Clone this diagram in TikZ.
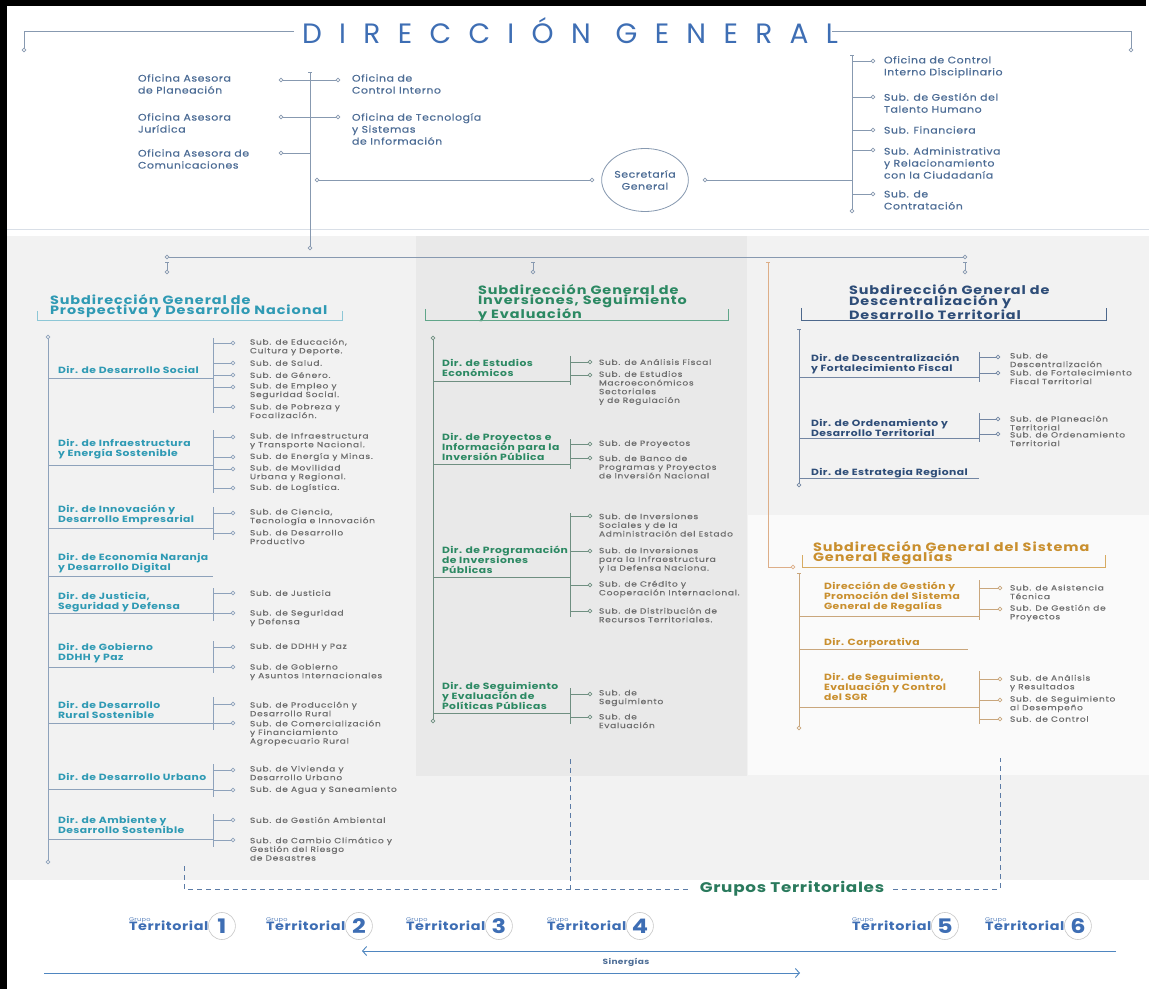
\documentclass[tikz,border=0pt]{standalone}
\usepackage{fontspec}
\setmainfont{Poppins}[FakeStretch=1.2,LetterSpace=5]
\newfontfamily\subfont{Poppins}[FakeStretch=1.2,LetterSpace=10,FakeBold=0.4]
\newfontfamily\hdrfont{Poppins}[FakeStretch=1.15,LetterSpace=6,FakeBold=0.5]
\newfontfamily\headfont{Poppins}[FakeStretch=1.2,LetterSpace=8]
\newfontfamily\titlefont{Poppins}[LetterSpace=62]
\usetikzlibrary{positioning,arrows.meta,shapes.geometric}

\definecolor{titleblue}{HTML}{3E6EB4}
\definecolor{hdrblue}{HTML}{4D6D96}
\definecolor{hdrline}{HTML}{8799B0}
\definecolor{sepline}{HTML}{D9DFE7}
\definecolor{tealc}{HTML}{2F9AB4}
\definecolor{tealline}{HTML}{8EA2BB}
\definecolor{greenc}{HTML}{2C8963}
\definecolor{greenline}{HTML}{6F8F81}
\definecolor{navyc}{HTML}{2E4D78}
\definecolor{navyline}{HTML}{7386A3}
\definecolor{goldc}{HTML}{C98F2E}
\definecolor{goldline}{HTML}{C9A67C}
\definecolor{orangeline}{HTML}{DDAE88}
\definecolor{subgray}{HTML}{6E6E6E}
\definecolor{bandgray}{HTML}{F2F2F2}
\definecolor{midgray}{HTML}{E9E9E9}
\definecolor{sgrwhite}{HTML}{FAFAFA}
\definecolor{dashblue}{HTML}{5B7BA6}
\definecolor{grupgreen}{HTML}{2A7A5D}
\definecolor{synblue}{HTML}{4F86C0}

\begin{document}
\begin{tikzpicture}[x=1pt, y=-1pt,
    every node/.style={inner sep=0pt, outer sep=0pt},
    ln/.style={line width=0.9pt},
    hline/.style={ln, draw=hdrline},
    dot/.style={circle, draw, minimum size=3.8pt, line width=0.6pt},
    hdot/.style={dot, draw=hdrline},
    fork/.style={{Bar[width=4pt]}-},
    titletxt/.style={text=titleblue, font=\titlefont\fontsize{28}{28}\selectfont, inner xsep=8pt},
    hdrtxt/.style={anchor=west, align=left, text=hdrblue, font=\hdrfont\fontsize{9.5}{12}\selectfont},
    headtxt/.style={anchor=west, align=left, font=\headfont\bfseries\fontsize{12}{10.5}\selectfont},
    dirtxt/.style={anchor=west, align=left, font=\bfseries\fontsize{9}{10}\selectfont},
    subtxt/.style={anchor=west, align=left, text=subgray, font=\subfont\fontsize{7.5}{8.7}\selectfont},
    colA/.style={text=tealc},  lnA/.style={ln, draw=tealline},  dotA/.style={dot, draw=tealline},
    colB/.style={text=greenc}, lnB/.style={ln, draw=greenline}, dotB/.style={dot, draw=greenline},
    colC/.style={text=navyc},  lnC/.style={ln, draw=navyline},  dotC/.style={dot, draw=navyline},
    colD/.style={text=goldc},  lnD/.style={ln, draw=goldline},  dotD/.style={dot, draw=goldline},
    dashln/.style={draw=dashblue, line width=0.8pt, dash pattern=on 5pt off 4pt},
    terrtxt/.style={anchor=west, text=titleblue, font=\bfseries\fontsize{12}{12}\selectfont},
    grptxt/.style={anchor=south west, text=titleblue!85, font=\fontsize{5.5}{6}\selectfont},
    numtxt/.style={circle, draw=black!22, line width=0.6pt, minimum size=27pt, text=titleblue, font=\bfseries\fontsize{20}{20}\selectfont},
    syntip/.style={-{Straight Barb[length=4pt,width=9pt]}}]

  % page, grey band and panels
  \useasboundingbox (0,0) rectangle (1149,992);
  \fill[white] (0,0) rectangle (1149,992);
  \fill[bandgray] (7,236) rectangle (1149,880);
  \fill[midgray] (416,236) rectangle (747,776);
  \fill[sgrwhite] (748,515) rectangle (1149,775);
  \draw[sepline, line width=0.8pt] (7,229) -- (1149,229);
  \fill[black] (0,0) rectangle (7,989);
  \fill[black] (0,0) rectangle (1146,6);

  % Direccion General with its side brackets
  \node[titletxt] (dg) at (570,31) {DIRECCIÓN GENERAL};
  \node[hdot] (dgl) at (24,50) {};
  \node[hdot] (dgr) at (1131,50) {};
  \draw[hline] (dg.west) -| (dgl);
  \draw[hline] ([xshift=-14pt]dg.east) -| (dgr);

  % advisory offices, left of the main vertical
  \coordinate (hvt) at (310,72);
  \node[hdot] (hvb) at (310,248) {};
  \draw[hline, fork] (hvt) -- (hvb);
  \foreach \ns/\yb/\yc/\txt in {1/80/84/{Oficina Asesora\\de Planeación},
      2/117/123/{Oficina Asesora\\Jurídica},
      3/153/159/{Oficina Asesora de\\Comunicaciones}}{
    \node[hdrtxt] (oa\ns) at (138,\yc) {\txt};
    \node[hdot] (pl\ns) at (281,\yb) {};
    \draw[hline] (pl\ns) -- (pl\ns -| hvt);
  }
  \foreach \ns/\yb/\yc/\txt in {1/80/84/{Oficina de\\Control Interno},
      2/117/129/{Oficina de Tecnología\\y Sistemas\\de Información}}{
    \node[hdrtxt] (of\ns) at (352,\yc) {\txt};
    \node[hdot] (pr\ns) at (338,\yb) {};
    \draw[hline] (pl\ns) -- (pr\ns);
  }

  % Secretaria General and its offices
  \coordinate (rvt) at (852,55);
  \node[hdot] (rvb) at (852,211) {};
  \draw[hline, fork] (rvt) -- (rvb);
  \node[hdot] (p4) at (317,180) {};
  \node[hdot] (sgl) at (592,180) {};
  \node[ellipse, draw=hdrline, line width=0.8pt, minimum width=86pt, minimum height=63pt,
        align=center, text=hdrblue, font=\hdrfont\fontsize{9.5}{12}\selectfont] (secg) at (645,180) {Secretaría\\General};
  \node[hdot] (sgr) at (705,180) {};
  \draw[hline] (p4) -- (sgl);
  \draw[hline] (sgr) -- (sgr -| rvt);
  \foreach \ns/\yb/\yc/\txt in {1/61/67/{Oficina de Control\\Interno Disciplinario},
      2/97/103/{Sub. de Gestión del\\Talento Humano},
      3/130/130/{Sub. Financiera},
      4/150/163/{Sub. Administrativa\\y Relacionamiento\\con la Ciudadanía},
      5/194/200/{Sub. de\\Contratación}}{
    \node[hdot] (pq\ns) at (873,\yb) {};
    \draw[hline] (pq\ns) -- (pq\ns -| rvt);
    \node[hdrtxt] (sq\ns) at (884,\yc) {\txt};
  }

  % link down to the subdirections
  \node[hdot] (hzl) at (167,257) {};
  \node[hdot] (hzr) at (965,257) {};
  \draw[hline] (hzl) -- (hzr);
  \foreach \cc/\xx in {A/167,B/533,C/965}{
    \coordinate (tk\cc) at (\xx,262);
    \node[hdot] (tq\cc) at (\xx,272) {};
    \draw[hline, fork] (tk\cc) -- (tq\cc);
  }
  \coordinate (og) at (768,262);
  \node[dot, draw=orangeline] (ogo) at (793,567) {};
  \draw[ln, draw=orangeline, fork] (og) |- (ogo);

  % Subdireccion General de Prospectiva y Desarrollo Nacional
  \node[headtxt, colA] (hA) at (50,306) {Subdirección General de\\Prospectiva y Desarrollo Nacional};
  \coordinate (hAl) at (37,311);
  \coordinate (hAr) at (342,311);
  \draw[ln, draw=tealc!55] (hAl) -- ++(0,9) -| (hAr);
  \node[dotA] (tAt) at (48,337) {};
  \node[dotA] (tAb) at (48,862) {};
  \draw[lnA] (tAt) -- (tAb);
  \foreach \nd/\yc/\yu/\vt/\vb/\txt in {1/370/378/338/413/{Dir. de Desarrollo Social},
      2/449/465/430/493/{Dir. de Infraestructura\\y Energía Sostenible},
      3/515/528/507/540/{Dir. de Innovación y\\Desarrollo Empresarial},
      4/563/576/576/576/{Dir. de Economía Naranja\\y Desarrollo Digital},
      5/602/613/588/621/{Dir. de Justicia,\\Seguridad y Defensa},
      6/653/667/641/673/{Dir. de Gobierno\\DDHH y Paz},
      7/710/723/697/730/{Dir. de Desarrollo\\Rural Sostenible},
      8/777/789/764/797/{Dir. de Desarrollo Urbano},
      9/825/839/814/847/{Dir. de Ambiente y\\Desarrollo Sostenible}}{
    \node[dirtxt, colA] (dA\nd) at (58,\yc) {\txt};
    \coordinate (vA\nd) at (213,\vt);
    \coordinate (wA\nd) at (213,\vb);
    \coordinate (uA\nd) at (213,\yu);
    \draw[lnA] (vA\nd) -- (wA\nd);
    \draw[lnA] (uA\nd -| tAt) -- (uA\nd);
  }
  \foreach \nd/\ns/\yb/\yc/\txt in {1/1/343/347/{Sub. de Educación,\\Cultura y Deporte.},
      1/2/363/363/{Sub. de Salud.},
      1/3/375/375/{Sub. de Género.},
      1/4/387/391/{Sub. de Empleo y\\Seguridad Social.},
      1/5/407/411/{Sub. de Pobreza y\\Focalización.},
      2/1/437/441/{Sub. de Infraestructura\\y Transporte Nacional.},
      2/2/457/457/{Sub. de Energía y Minas.},
      2/3/469/473/{Sub. de Movilidad\\Urbana y Regional.},
      2/4/488/488/{Sub. de Logística.},
      3/1/513/517/{Sub. de Ciencia,\\Tecnología e Innovación},
      3/2/533/537/{Sub. de Desarrollo\\Productivo},
      5/1/593/593/{Sub. de Justicia},
      5/2/613/618/{Sub. de Seguridad\\y Defensa},
      6/1/647/647/{Sub. de DDHH y Paz},
      6/2/667/672/{Sub. de Gobierno\\y Asuntos Internacionales},
      7/1/704/709/{Sub. de Producción y\\Desarrollo Rural},
      7/2/723/733/{Sub. de Comercialización\\y Financiamiento\\Agropecuario Rural},
      8/1/770/773/{Sub. de Vivienda y\\Desarrollo Urbano},
      8/2/790/790/{Sub. de Agua y Saneamiento},
      9/1/820/820/{Sub. de Gestión Ambiental},
      9/2/840/849/{Sub. de Cambio Climático y\\Gestión del Riesgo\\de Desastres}}{
    \node[dotA] (oA\nd\ns) at (233,\yb) {};
    \draw[lnA] (oA\nd\ns) -- (oA\nd\ns -| vA\nd);
    \node[subtxt] (sA\nd\ns) at (250,\yc) {\txt};
  }

  % Subdireccion General de Inversiones, Seguimiento y Evaluacion
  \node[headtxt, colB] (hB) at (478,303) {Subdirección General de\\Inversiones, Seguimiento\\y Evaluación};
  \coordinate (hBl) at (425,309);
  \coordinate (hBr) at (728,309);
  \draw[ln, draw=greenc!75] (hBl) -- ++(0,11) -| (hBr);
  \node[dotB] (tBt) at (433,338) {};
  \node[dotB] (tBb) at (433,721) {};
  \draw[lnB] (tBt) -- (tBb);
  \foreach \nd/\yc/\yu/\vt/\vb/\txt in {1/368/381/356/385/{Dir. de Estudios\\Económicos},
      2/447/464/439/469/{Dir. de Proyectos e\\Información para la\\Inversión Pública},
      3/560/577/513/617/{Dir. de Programación\\de Inversiones\\Públicas},
      4/696/713/688/724/{Dir. de Seguimiento\\y Evaluación de\\Políticas Públicas}}{
    \node[dirtxt, colB] (dB\nd) at (442,\yc) {\txt};
    \coordinate (vB\nd) at (570,\vt);
    \coordinate (wB\nd) at (570,\vb);
    \coordinate (uB\nd) at (570,\yu);
    \draw[lnB] (vB\nd) -- (wB\nd);
    \draw[lnB] (uB\nd -| tBt) -- (uB\nd);
  }
  \foreach \nd/\ns/\yb/\yc/\txt in {1/1/362/362/{Sub. de Análisis Fiscal},
      1/2/375/388/{Sub. de Estudios\\Macroeconómicos\\Sectoriales\\y de Regulación},
      2/1/444/444/{Sub. de Proyectos},
      2/2/458/467/{Sub. de Banco de\\Programas y Proyectos\\de Inversión Nacional},
      3/1/516/525/{Sub. de Inversiones\\Sociales y de la\\Administración del Estado},
      3/2/551/560/{Sub. de Inversiones\\para la Infraestructura\\y la Defensa Naciona.},
      3/3/585/589/{Sub. de Crédito y\\Cooperación Internacional.},
      3/4/611/615/{Sub. de Distribución de\\Recursos Territoriales.},
      4/1/694/698/{Sub. de\\Seguimiento},
      4/2/717/721/{Sub. de\\Evaluación}}{
    \node[dotB] (oB\nd\ns) at (590,\yb) {};
    \draw[lnB] (oB\nd\ns) -- (oB\nd\ns -| vB\nd);
    \node[subtxt] (sB\nd\ns) at (599,\yc) {\txt};
  }

  % Subdireccion General de Descentralizacion y Desarrollo Territorial
  \node[headtxt, colC] (hC) at (849,302) {Subdirección General de\\Descentralización y\\Desarrollo Territorial};
  \coordinate (hCl) at (801,308);
  \coordinate (hCr) at (1106,308);
  \draw[ln, draw=navyc!85] (hCl) -- ++(0,12) -| (hCr);
  \coordinate (tCt) at (799,329);
  \node[dotC] (tCb) at (799,485) {};
  \draw[lnC, fork] (tCt) -- (tCb);
  \foreach \nd/\yc/\yu/\vt/\vb/\txt in {1/364/377/352/382/{Dir. de Descentralización\\y Fortalecimiento Fiscal},
      2/428/438/413/442/{Dir. de Ordenamiento y\\Desarrollo Territorial},
      3/473/478/478/478/{Dir. de Estrategia Regional}}{
    \node[dirtxt, colC] (dC\nd) at (811,\yc) {\txt};
    \coordinate (vC\nd) at (979,\vt);
    \coordinate (wC\nd) at (979,\vb);
    \coordinate (uC\nd) at (979,\yu);
    \draw[lnC] (vC\nd) -- (wC\nd);
    \draw[lnC] (uC\nd -| tCt) -- (uC\nd);
  }
  \foreach \nd/\ns/\yb/\yc/\txt in {1/1/357/360/{Sub. de\\Descentralización},
      1/2/373/377/{Sub. de Fortalecimiento\\Fiscal Territorial},
      2/1/419/423/{Sub. de Planeación\\Territorial},
      2/2/434/439/{Sub. de Ordenamiento\\Territorial}}{
    \node[dotC] (oC\nd\ns) at (998,\yb) {};
    \draw[lnC] (oC\nd\ns) -- (oC\nd\ns -| vC\nd);
    \node[subtxt] (sC\nd\ns) at (1010,\yc) {\txt};
  }

  % Subdireccion General del Sistema General de Regalias
  \node[headtxt, colD] (hD) at (813,553) {Subdirección General del Sistema\\General Regalías};
  \coordinate (hDl) at (802,555);
  \coordinate (hDr) at (1105,555);
  \draw[ln, draw=goldc!75] (hDl) -- ++(0,12) -| (hDr);
  \coordinate (tDt) at (799,573);
  \node[dotD] (tDb) at (799,728) {};
  \draw[lnD, fork] (tDt) -- (tDb);
  \foreach \nd/\yc/\yu/\ux/\vt/\vb/\txt in {1/597/616/979/580/620/{Dirección de Gestión y\\Promoción del Sistema\\General de Regalías},
      2/643/649/968/649/649/{Dir. Corporativa},
      3/687/707/979/671/724/{Dir. de Seguimiento,\\Evaluación y Control\\del SGR}}{
    \node[dirtxt, colD] (dD\nd) at (824,\yc) {\txt};
    \coordinate (vD\nd) at (979,\vt);
    \coordinate (wD\nd) at (979,\vb);
    \coordinate (uD\nd) at (\ux,\yu);
    \draw[lnD] (vD\nd) -- (wD\nd);
    \draw[lnD] (uD\nd -| tDt) -- (uD\nd);
  }
  \foreach \nd/\ns/\yb/\yc/\txt in {1/1/588/592/{Sub. de Asistencia\\Técnica},
      1/2/609/613/{Sub. De Gestión de\\Proyectos},
      3/1/679/683/{Sub. de Análisis\\y Resultados},
      3/2/700/704/{Sub. de Seguimiento\\al Desempeño},
      3/3/719/719/{Sub. de Control}}{
    \node[dotD] (oD\nd\ns) at (1000,\yb) {};
    \draw[lnD] (oD\nd\ns) -- (oD\nd\ns -| vD\nd);
    \node[subtxt] (sD\nd\ns) at (1010,\yc) {\txt};
  }

  % Grupos Territoriales, dashed frame
  \node[text=grupgreen, font=\bfseries\fontsize{14}{14}\selectfont] (gt) at (792,889) {Grupos Territoriales};
  \coordinate (gA) at (184,866);
  \coordinate (gB) at (570,759);
  \coordinate (gC) at (1000,758);
  \draw[dashln] (gA) |- ([xshift=-9pt]gt.west);
  \draw[dashln] ([xshift=9pt]gt.east) -| (gC);
  \draw[dashln] (gB) -- (gB |- gt);

  % the six territorial groups
  \foreach \cc/\xx in {1/129,2/266,3/406,4/547,5/852,6/985}{
    \node[terrtxt] (tr\cc) at (\xx,926) {Territorial};
    \node[grptxt] (gp\cc) at ([yshift=-2pt]tr\cc.north west) {Grupo};
    \node[numtxt, right=0pt of tr\cc] (nm\cc) {\cc};
  }

  % Sinergias arrows
  \node[text=hdrblue, font=\bfseries\fontsize{7.5}{8}\selectfont] (syn) at (626,962) {Sinergías};
  \coordinate (sa) at (1116,951);
  \coordinate (sb) at (362,951);
  \coordinate (sc) at (44,973);
  \coordinate (sd) at (800,973);
  \draw[ln, draw=synblue, syntip] (sa) -- (sb);
  \draw[ln, draw=synblue, syntip] (sc) -- (sd);
\end{tikzpicture}
\end{document}
